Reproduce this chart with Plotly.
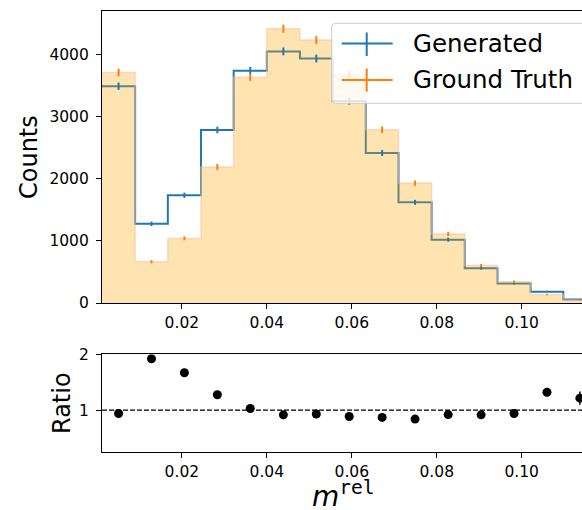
import numpy as np
import plotly.graph_objects as go

# ---------------- data ----------------
bin_edges = [0.0012, 0.0090, 0.0167, 0.0245, 0.0322, 0.0400, 0.0478, 0.0555,
             0.0633, 0.0710, 0.0788, 0.0866, 0.0943, 0.1021, 0.1098, 0.1176]
generated = [3490, 1275, 1735, 2785, 3740, 4050, 3935, 3250, 2415, 1620, 1020, 560, 315, 182, 58]
ground_truth = [3710, 665, 1040, 2190, 3635, 4415, 4235, 3680, 2790, 1930, 1112, 603, 343, 135, 48]
ratio = [0.94, 1.92, 1.67, 1.275, 1.03, 0.915, 0.93, 0.885, 0.87, 0.84, 0.92, 0.915, 0.94, 1.32, 1.215]
ratio_err = [0.02, 0.06, 0.05, 0.03, 0.02, 0.02, 0.02, 0.02, 0.025, 0.03, 0.04, 0.05, 0.07, 0.07, 0.12]
x_ticks = [0.02, 0.04, 0.06, 0.08, 0.10]
x_ticktext = ["0.02", "0.04", "0.06", "0.08", "0.10"]
y_ticks = [0, 1000, 2000, 3000, 4000]
ratio_ticks = [1, 2]
labels = ["Generated", "Ground Truth"]

edges = np.array(bin_edges)
centers = 0.5 * (edges[:-1] + edges[1:])
gen = np.array(generated, dtype=float)
gt = np.array(ground_truth, dtype=float)

BLUE = "#1f77b4"
ORANGE = "#ff7f0e"
W, H = 582, 510
ML, MR, MT, MB = 102, 0, 11, 58
PW, PH = W - ML - MR, H - MT - MB


def px(xp):
    return (xp - ML) / PW


def py(yp):
    return (H - MB - yp) / PH


fig = go.Figure()

# blue step line (drawn below the orange fill)
fig.add_trace(go.Scatter(x=edges, y=np.append(gen, gen[-1]), mode="lines",
                         line=dict(shape="hv", color=BLUE, width=2),
                         showlegend=False, xaxis="x", yaxis="y", hoverinfo="skip"))
# orange filled histogram
fig.add_trace(go.Scatter(x=edges, y=np.append(gt, gt[-1]), mode="lines",
                         line=dict(shape="hv", color="rgba(250,190,160,0.55)", width=1.5),
                         fill="tozeroy", fillcolor="rgba(255,165,0,0.3)",
                         showlegend=False, xaxis="x", yaxis="y", hoverinfo="skip"))
# error bars
fig.add_trace(go.Scatter(x=centers, y=gen, mode="markers", marker=dict(size=2, color=BLUE, opacity=0),
                         error_y=dict(type="data", array=np.sqrt(gen), color=BLUE, thickness=2, width=0),
                         showlegend=False, xaxis="x", yaxis="y"))
fig.add_trace(go.Scatter(x=centers, y=gt, mode="markers", marker=dict(size=2, color=ORANGE, opacity=0),
                         error_y=dict(type="data", array=np.sqrt(gt), color=ORANGE, thickness=2, width=0),
                         showlegend=False, xaxis="x", yaxis="y"))
# ratio
fig.add_trace(go.Scatter(x=centers, y=ratio, mode="markers", marker=dict(size=9, color="black"),
                         error_y=dict(type="data", array=ratio_err, color="black", thickness=1.5, width=0),
                         showlegend=False, xaxis="x2", yaxis="y2"))

FONT = "DejaVu Sans"
tickfont = dict(family=FONT, size=15.5, color="black")
axis_common = dict(showline=True, linecolor="black", linewidth=1.1, ticks="outside", ticklen=5,
                   tickwidth=1.1, tickcolor="black", showgrid=False, zeroline=False, tickfont=tickfont)

xr = [0.0012, 0.1142]
fig.update_layout(
    width=W, height=H, margin=dict(l=ML, r=MR, t=MT, b=MB, autoexpand=False),
    paper_bgcolor="white", plot_bgcolor="white", showlegend=False,
    xaxis=dict(domain=[0, 1], range=xr, anchor="y", tickvals=x_ticks, ticktext=x_ticktext,
               mirror=True, **axis_common),
    yaxis=dict(domain=[py(303), 1], range=[0, 4700], anchor="x", tickvals=y_ticks,
               ticklabelstandoff=4, **axis_common),
    xaxis2=dict(domain=[0, 1], range=xr, anchor="y2", tickvals=x_ticks, ticktext=x_ticktext,
                mirror=True, **axis_common),
    yaxis2=dict(domain=[0, py(354.3)], range=[0.25, 2.0], anchor="x2", tickvals=ratio_ticks,
                ticklabelstandoff=4, **axis_common),
)

shapes = []
# dashed reference line at ratio 1
shapes.append(dict(type="line", xref="x2 domain", yref="y2", x0=0, x1=1, y0=1, y1=1,
                   line=dict(color="black", width=1.1, dash="5px,2px"), layer="below"))

# legend box (rounded, semi-transparent)
bx0, bx1, by0, by1, r = 331.7, 640, 23.3, 103.3, 4
rx, ry = r / PW, r / PH
X0, X1, Y0, Y1 = px(bx0), px(bx1), py(by0), py(by1)
path = (f"M {X0+rx},{Y0} L {X1-rx},{Y0} Q {X1},{Y0} {X1},{Y0-ry} L {X1},{Y1+ry} "
        f"Q {X1},{Y1} {X1-rx},{Y1} L {X0+rx},{Y1} Q {X0},{Y1} {X0},{Y1+ry} "
        f"L {X0},{Y0-ry} Q {X0},{Y0} {X0+rx},{Y0} Z")
shapes.append(dict(type="path", xref="paper", yref="paper", path=path,
                   fillcolor="rgba(255,255,255,0.8)", line=dict(color="#cccccc", width=1), layer="above"))
# legend handles
for yc, ytop, ybot, col in [(43.5, 32.5, 56.0, BLUE), (80.0, 68.5, 91.7, ORANGE)]:
    shapes.append(dict(type="line", xref="paper", yref="paper", x0=px(341.7), x1=px(392.7),
                       y0=py(yc), y1=py(yc), line=dict(color=col, width=2), layer="above"))
    shapes.append(dict(type="line", xref="paper", yref="paper", x0=px(366.7), x1=px(366.7),
                       y0=py(ytop), y1=py(ybot), line=dict(color=col, width=2), layer="above"))
fig.update_layout(shapes=shapes)

ann = []
for txt, yc in zip(labels, [43.5, 80.0]):
    ann.append(dict(text=txt, xref="paper", yref="paper", x=px(410.5), y=py(yc), xanchor="left",
                    yanchor="middle", showarrow=False, font=dict(family=FONT, size=24.5, color="black")))
ann.append(dict(text="Counts", xref="paper", yref="paper", x=px(29), y=py(157), textangle=-90,
                xanchor="center", yanchor="middle", showarrow=False,
                font=dict(family=FONT, size=24, color="black")))
ann.append(dict(text="Ratio", xref="paper", yref="paper", x=px(62), y=py(403), textangle=-90,
                xanchor="center", yanchor="middle", showarrow=False,
                font=dict(family=FONT, size=24, color="black")))
ann.append(dict(text="<i>m</i><sup><span style='font-family:DejaVu Sans Mono'>rel</span></sup>",
                xref="paper", yref="paper", x=px(343), y=py(494), xanchor="center", yanchor="middle",
                showarrow=False, font=dict(family=FONT, size=28, color="black")))
fig.update_layout(annotations=ann)

fig.write_html("out.html")
